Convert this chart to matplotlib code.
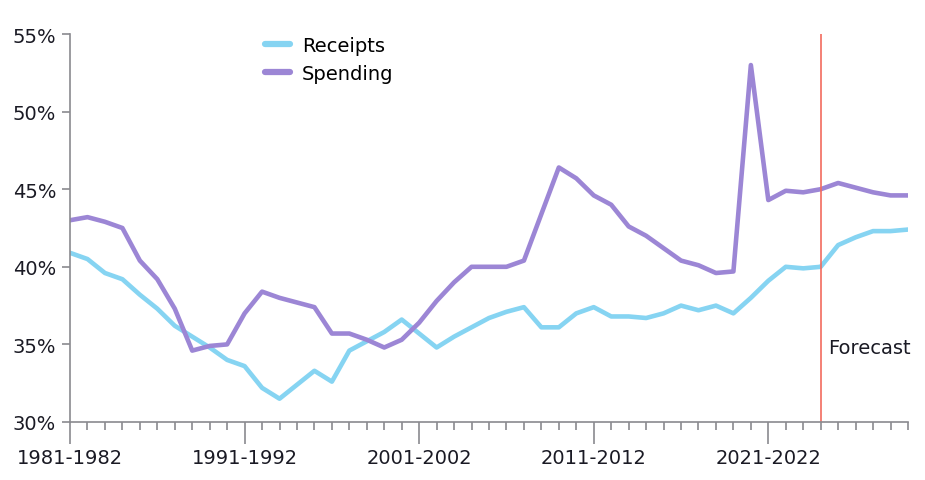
import matplotlib.pyplot as plt
from matplotlib.ticker import FuncFormatter, MultipleLocator

# fiscal years 1981-1982 .. 2029-2030
years = [f"{y}-{y + 1}" for y in range(1981, 2030)]

receipts = [40.9, 40.5, 39.6, 39.2, 38.2, 37.3, 36.2, 35.5, 34.8, 34.0,
            33.6, 32.2, 31.5, 32.4, 33.3, 32.6, 34.6, 35.2, 35.8, 36.6,
            35.7, 34.8, 35.5, 36.1, 36.7, 37.1, 37.4, 36.1, 36.1, 37.0,
            37.4, 36.8, 36.8, 36.7, 37.0, 37.5, 37.2, 37.5, 37.0, 38.0,
            39.1, 40.0, 39.9, 40.0, 41.4, 41.9, 42.3, 42.3, 42.4]

spending = [43.0, 43.2, 42.9, 42.5, 40.4, 39.2, 37.3, 34.6, 34.9, 35.0,
            37.0, 38.4, 38.0, 37.7, 37.4, 35.7, 35.7, 35.3, 34.8, 35.3,
            36.4, 37.8, 39.0, 40.0, 40.0, 40.0, 40.4, 43.4, 46.4, 45.7,
            44.6, 44.0, 42.6, 42.0, 41.2, 40.4, 40.1, 39.6, 39.7, 53.0,
            44.3, 44.9, 44.8, 45.0, 45.4, 45.1, 44.8, 44.6, 44.6]

forecast_start = "2024-2025"

x = list(range(len(years)))

fig = plt.figure(figsize=(9.25, 4.81), dpi=100)
ax = fig.add_axes([0.0757, 0.1206, 0.9059, 0.8066])

ax.plot(x, receipts, color="#86D4F2", lw=3.3, label="Receipts", solid_capstyle="round")
ax.plot(x, spending, color="#9C86D5", lw=3.3, label="Spending", solid_capstyle="round")

fx = years.index(forecast_start)
ax.axvline(fx, color="#F26B5E", lw=1.2)
ax.text(fx + 0.45, 34.8, "Forecast", fontsize=14, color="#1a1a24", va="center", ha="left")

ax.set_xlim(0, len(years) - 1)
ax.set_ylim(30, 55)

ax.yaxis.set_major_locator(MultipleLocator(5))
ax.yaxis.set_major_formatter(FuncFormatter(lambda v, p: f"{v:.0f}%"))

ax.xaxis.set_major_locator(MultipleLocator(10))
ax.xaxis.set_minor_locator(MultipleLocator(1))
ax.xaxis.set_major_formatter(FuncFormatter(lambda v, p: years[int(v)] if 0 <= int(v) < len(years) else ""))

grey = "#8a8a8f"
for s in ["top", "right"]:
    ax.spines[s].set_visible(False)
for s in ["left", "bottom"]:
    ax.spines[s].set_color(grey)
    ax.spines[s].set_linewidth(1.2)

ax.tick_params(axis="y", length=6, width=1.2, color=grey, labelsize=14, labelcolor="#1a1a24", pad=4)
ax.tick_params(axis="x", which="major", length=16, width=1.2, color=grey, labelsize=14, labelcolor="#1a1a24", pad=3)
ax.tick_params(axis="x", which="minor", length=6, width=1.2, color=grey)

leg = ax.legend(loc="upper left", bbox_to_anchor=(0.212, 1.04), frameon=False, fontsize=14,
                handlelength=1.3, handletextpad=0.6, labelspacing=0.45)
for h in leg.get_lines():
    h.set_linewidth(4.5)
    h.set_solid_capstyle("round")

fig.savefig("out.png", dpi=100)
